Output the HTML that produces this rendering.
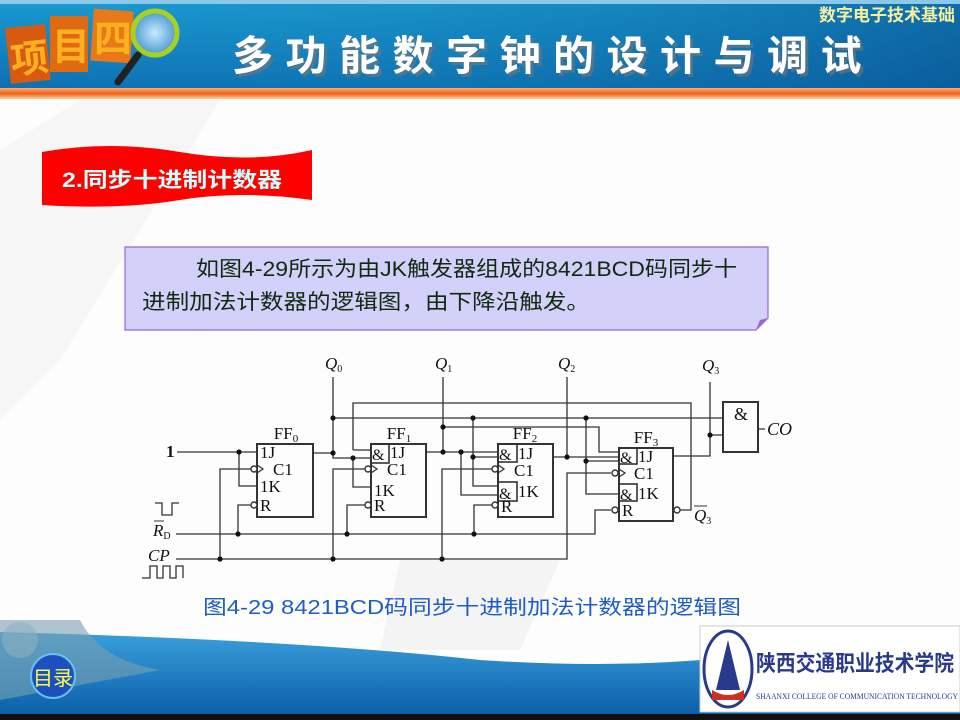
<!DOCTYPE html>
<html><head><meta charset="utf-8"><style>
html,body{margin:0;padding:0;width:960px;height:720px;overflow:hidden;background:#fff}
svg{display:block}
.t{font-family:"Liberation Serif","Noto Serif CJK SC",serif;fill:#111}
.c{font-family:"Liberation Sans","Noto Sans CJK SC",sans-serif}
</style></head><body>
<svg width="960" height="720" viewBox="0 0 960 720" xmlns="http://www.w3.org/2000/svg">
<defs>
<linearGradient id="hd" x1="0" y1="0" x2="0" y2="1"><stop offset="0" stop-color="#1a9ad0"/><stop offset="1" stop-color="#0e6fb0"/></linearGradient>
<linearGradient id="hd2" x1="0" y1="0" x2="1" y2="0"><stop offset="0" stop-color="#1b9bd3" stop-opacity="0"/><stop offset="1" stop-color="#08508e" stop-opacity=".6"/></linearGradient>
<linearGradient id="or" x1="0" y1="0" x2="0" y2="1"><stop offset="0" stop-color="#ffb070"/><stop offset=".5" stop-color="#f06018"/><stop offset="1" stop-color="#ffd0a0"/></linearGradient>
<linearGradient id="bt" x1="0" y1="0" x2="0" y2="1"><stop offset="0" stop-color="#3aa0dc"/><stop offset="1" stop-color="#0b5fa8"/></linearGradient>
<radialGradient id="mg"><stop offset="0" stop-color="#c8eaff"/><stop offset="1" stop-color="#4a9ad0"/></radialGradient>
</defs>
<rect x="0" y="98" width="960" height="560" fill="#fdfdfd"/>
<path d="M80 100 L220 100 L60 360 L0 420 L0 150 Z" fill="#f6f6f6"/>
<path d="M400 560 L560 560 L520 650 L380 650 Z" fill="#f4f4f4"/>
<!-- header -->
<rect x="0" y="0" width="960" height="90" fill="url(#hd)"/>
<rect x="0" y="0" width="960" height="90" fill="url(#hd2)"/>
<rect x="0" y="0" width="960" height="4" fill="#8cc8e8"/>
<rect x="0" y="88" width="960" height="11" fill="url(#or)"/>
<text x="955" y="21" text-anchor="end" class="c" font-size="17" font-weight="bold" fill="#f4f0a0">数字电子技术基础</text>
<text x="232" y="70" class="c" font-size="41" font-weight="bold" fill="#777" opacity=".6" letter-spacing="12.5" transform="translate(3,3)">多功能数字钟的设计与调试</text>
<text x="232" y="70" class="c" font-size="41" font-weight="bold" fill="#fff" letter-spacing="12.5">多功能数字钟的设计与调试</text>
<g class="c" font-weight="bold" font-size="38">
<rect x="8" y="26" width="40" height="56" fill="#d85a10" transform="rotate(-6 28 54)"/>
<rect x="50" y="16" width="38" height="56" fill="#e06a12"/>
<rect x="92" y="10" width="40" height="52" fill="#e87818" transform="rotate(4 112 36)"/>
<text x="10" y="72" fill="#ffb020" transform="rotate(-6 28 54)">项</text>
<text x="52" y="60" fill="#ffb020">目</text>
<text x="94" y="52" fill="#ffb020">四</text>
</g>
<line x1="138" y1="55" x2="118" y2="82" stroke="#222" stroke-width="7" stroke-linecap="round"/>
<circle cx="155" cy="33" r="22" fill="url(#mg)" stroke="#a8d020" stroke-width="5"/>
<!-- red banner -->
<path d="M42 152 Q110 140 180 152 T312 150 L312 200 Q240 190 180 200 T42 205 Z" fill="#ff0000"/>
<text x="62" y="187" class="c" font-size="21" font-weight="bold" fill="#c8ffff" textLength="220" lengthAdjust="spacingAndGlyphs">2.同步十进制计数器</text>
<!-- text box -->
<path d="M125 247 L768 247 L768 318 L756 330 L125 330 Z" fill="#d3d0fa" stroke="#9a66d0" stroke-width="1.2"/>
<path d="M756 330 L768 318 L760 320 Z" fill="#9a66d0"/>
<text x="196" y="276" class="c" font-size="21" fill="#102a10" textLength="541" lengthAdjust="spacingAndGlyphs">如图4-29所示为由JK触发器组成的8421BCD码同步十</text>
<text x="142" y="309" class="c" font-size="21" fill="#102a10" textLength="448" lengthAdjust="spacingAndGlyphs">进制加法计数器的逻辑图，由下降沿触发。</text>

<!-- circuit -->
<g stroke="#333" stroke-width="1.3" fill="none">
<rect x="257" y="444" width="56" height="73" stroke-width="2"/>
<rect x="371" y="444" width="55" height="73" stroke-width="2"/>
<rect x="498" y="444" width="55" height="73" stroke-width="2"/>
<rect x="619" y="448" width="54" height="73" stroke-width="2"/>
<rect x="723" y="402" width="35" height="50" stroke-width="2"/>
<rect x="371" y="444" width="18" height="19" stroke-width="1.6"/>
<rect x="498" y="444" width="19" height="18" stroke-width="1.6"/>
<rect x="498" y="482" width="19" height="19" stroke-width="1.6"/>
<rect x="619" y="448" width="18" height="16" stroke-width="1.6"/>
<rect x="619" y="484" width="18" height="17" stroke-width="1.6"/>
<path d="M177 452 H257 M239 452 V486 H257"/>
<path d="M176 559 H567 V473 H611 M220 559 V469 H251 M333 559 V469 H365 M442 559 V469 H492"/>
<path d="M176 534 H595 V510 H611 M238 534 V505 H251 M347 534 V505 H365 M474 534 V505 H492"/>
<path d="M333 377 V453 M313 453 H333 V458 H371 M353 458 V487 H371 M333 418 H723 M473 418 V486 H498 M473 457 H498 M586 418 V494 H619 M586 461 H619"/>
<path d="M353 450 H371 M353 450 V403 H691 V510 H680"/>
<path d="M443 377 V452 M426 452 H498 M461 452 V495 H498 M443 427 H599 V452 H619"/>
<path d="M567 377 V457 M553 457 H619"/>
<path d="M710 382 V456 H673 M710 435 H723 M758 429 H765"/>
</g>
<g fill="#fff" stroke="#333" stroke-width="1.4">
<circle cx="254" cy="469" r="3"/><circle cx="368" cy="469" r="3"/><circle cx="495" cy="469" r="3"/><circle cx="615" cy="473" r="3"/>
<circle cx="254" cy="505" r="3"/><circle cx="368" cy="505" r="3"/><circle cx="495" cy="505" r="3"/><circle cx="615" cy="510" r="3"/>
<circle cx="677" cy="510" r="3"/>
</g>
<g stroke="#333" stroke-width="1.3" fill="none">
<path d="M257 465 L263 469 L257 473 M371 465 L377 469 L371 473 M498 465 L504 469 L498 473 M619 469 L625 473 L619 477"/>
<path d="M155 503 H162 V515 H172 V503 H179"/>
<path d="M142 578 H150 V566 H157 V578 H163 V566 H170 V578 H176 V566 H183 V578"/>
</g>
<g fill="#111">
<circle cx="239" cy="452" r="2.6"/><circle cx="220" cy="559" r="2.6"/><circle cx="333" cy="559" r="2.6"/><circle cx="442" cy="559" r="2.6"/>
<circle cx="238" cy="534" r="2.6"/><circle cx="347" cy="534" r="2.6"/><circle cx="474" cy="534" r="2.6"/>
<circle cx="333" cy="453" r="2.6"/><circle cx="333" cy="418" r="2.6"/><circle cx="353" cy="458" r="2.6"/>
<circle cx="473" cy="418" r="2.6"/><circle cx="473" cy="457" r="2.6"/><circle cx="586" cy="418" r="2.6"/><circle cx="586" cy="461" r="2.6"/>
<circle cx="443" cy="452" r="2.6"/><circle cx="443" cy="427" r="2.6"/><circle cx="461" cy="452" r="2.6"/>
<circle cx="567" cy="457" r="2.6"/><circle cx="710" cy="435" r="2.6"/>
</g>
<g class="t" font-size="17">
<text x="286" y="439" text-anchor="middle">FF<tspan font-size="11" dy="3">0</tspan></text>
<text x="399" y="439" text-anchor="middle">FF<tspan font-size="11" dy="3">1</tspan></text>
<text x="525" y="439" text-anchor="middle">FF<tspan font-size="11" dy="3">2</tspan></text>
<text x="646" y="443" text-anchor="middle">FF<tspan font-size="11" dy="3">3</tspan></text>
<text x="260" y="458">1J</text><text x="273" y="475">C1</text><text x="260" y="492">1K</text><text x="260" y="511">R</text>
<text x="390" y="458">1J</text><text x="387" y="475">C1</text><text x="374" y="496">1K</text><text x="374" y="511">R</text>
<text x="518" y="459">1J</text><text x="514" y="476">C1</text><text x="518" y="497">1K</text><text x="501" y="512">R</text>
<text x="638" y="462">1J</text><text x="634" y="479">C1</text><text x="638" y="499">1K</text><text x="622" y="516">R</text>
<text x="372" y="460" font-size="16">&amp;</text><text x="499" y="460" font-size="16">&amp;</text><text x="499" y="499" font-size="16">&amp;</text><text x="620" y="463" font-size="16">&amp;</text><text x="620" y="500" font-size="16">&amp;</text>
<text x="734" y="420" font-size="18">&amp;</text>
<text x="767" y="435" font-style="italic" font-size="18">CO</text>
<text x="325" y="369" font-style="italic">Q<tspan font-size="10" dy="3" font-style="normal">0</tspan></text>
<text x="435" y="369" font-style="italic">Q<tspan font-size="10" dy="3" font-style="normal">1</tspan></text>
<text x="558" y="369" font-style="italic">Q<tspan font-size="10" dy="3" font-style="normal">2</tspan></text>
<text x="702" y="371" font-style="italic">Q<tspan font-size="10" dy="3" font-style="normal">3</tspan></text>
<text x="694" y="521" font-style="italic">Q<tspan font-size="10" dy="3" font-style="normal">3</tspan></text>
<text x="166" y="457" font-weight="bold">1</text>
<text x="153" y="536" font-style="italic">R<tspan font-size="10" dy="3" font-style="normal">D</tspan></text>
<text x="148" y="561" font-style="italic">CP</text>
</g>
<path d="M694 506 H707 M154 521 H164" stroke="#333" stroke-width="1"/>
<text x="203" y="614" class="c" font-size="20" fill="#1e5cc8" textLength="538" lengthAdjust="spacingAndGlyphs">图4-29 8421BCD码同步十进制加法计数器的逻辑图</text>
<!-- bottom -->
<path d="M0 632 Q300 640 480 660 Q600 668 700 660 L960 660 L960 715 L0 715 Z" fill="url(#bt)"/>
<path d="M0 620 L80 620 Q100 660 160 670 L0 700 Z" fill="#7aa0b0" opacity=".6"/>
<circle cx="20" cy="640" r="18" fill="#8ab0c0" opacity=".6"/>
<rect x="0" y="714" width="960" height="6" fill="#111"/>
<circle cx="53" cy="676" r="22" fill="#1c4fc0" stroke="#6ac0f0" stroke-width="2"/>
<text x="53" y="685" text-anchor="middle" class="c" font-size="20" fill="#ffff40">目录</text>
<rect x="700" y="626" width="260" height="86" fill="#fff" stroke="#ccc"/>
<ellipse cx="728" cy="669" rx="24" ry="38" fill="#fff" stroke="#2a3a8a" stroke-width="3"/>
<path d="M728 640 L716 690 L740 690 Z" fill="#2a3a8a"/>
<path d="M712 690 Q728 700 744 690 L744 700 L712 700 Z" fill="#d03020"/>
<text x="756" y="671" class="c" font-size="22" font-weight="bold" fill="#2a3a8a" textLength="198" lengthAdjust="spacingAndGlyphs">陕西交通职业技术学院</text>
<text x="756" y="699" font-family="Liberation Serif,serif" font-size="8" fill="#2a3a8a" textLength="202" lengthAdjust="spacingAndGlyphs">SHAANXI COLLEGE OF COMMUNICATION TECHNOLOGY</text>
</svg>
</body></html>
